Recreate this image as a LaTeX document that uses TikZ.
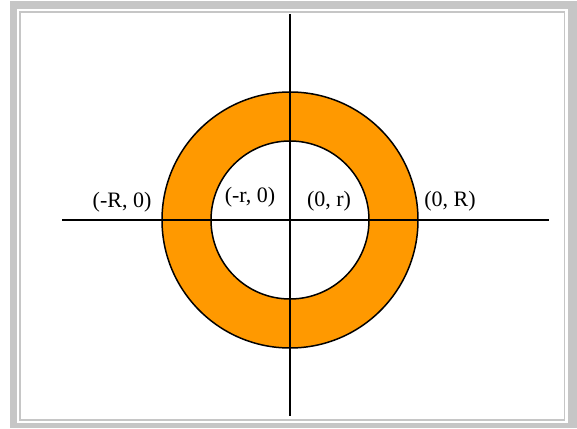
\documentclass[tikz,border=0pt]{standalone}
\usepackage{fontspec}
\setmainfont{Liberation Serif}
\definecolor{laranja}{HTML}{FF9900}
\definecolor{cinza}{HTML}{C6C6C6}

\begin{document}
\begin{tikzpicture}[x=1pt,y=1pt,
    rotulo/.style={inner sep=0pt, font=\fontsize{22}{26}\selectfont},
    eixo/.style={line width=1.6pt}]

    \useasboundingbox (0,0) rectangle (577,428);

    % Moldura
    \fill[cinza] (10,0) rectangle (577,426.5);
    \fill[white] (16.5,5) rectangle (568,419);
    \draw[cinza, line width=1.5pt] (20,8) rectangle (564.5,416);

    % Centro
    \coordinate (O) at (290,208);

    % Anel
    \fill[laranja, even odd rule] (O) circle (128) (O) circle (79);
    \draw[line width=1.5pt] (O) circle (128);
    \draw[line width=1.5pt] (O) circle (79);

    % Eixos
    \coordinate (esq) at (62,208);
    \coordinate (dir) at (549,208);
    \coordinate (topo) at (290,414);
    \coordinate (base) at (290,12);
    \draw[eixo] (esq) -- (dir);
    \draw[eixo] (topo) -- (base);

    % Pontos
    \node[rotulo] (mR) at (122,226) {(-R, 0)};
    \node[rotulo] (mr) at (250,231) {(-r, 0)};
    \node[rotulo] (pr) at (329,227) {(0, r)};
    \node[rotulo] (pR) at (450,227) {(0, R)};

\end{tikzpicture}
\end{document}
